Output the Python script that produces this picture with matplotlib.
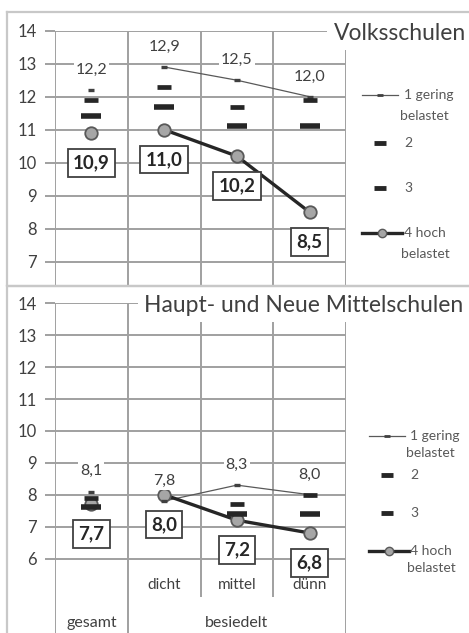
import numpy as np
import matplotlib.pyplot as plt
from matplotlib.lines import Line2D

plt.rcParams['font.family'] = ['Lato', 'DejaVu Sans']

# categories (x axis)
categories = ['gesamt', 'dicht', 'mittel', 'dünn']
group_labels = ['gesamt', 'besiedelt']
series_names = ['1 gering\nbelastet', '2', '3', '4 hoch\nbelastet']

# Volksschulen
vs_s1 = [12.2, 12.9, 12.5, 12.0]
vs_s2 = [11.9, 12.3, 11.7, 11.9]
vs_s3 = [11.4, 11.7, 11.1, 11.1]
vs_s4 = [10.9, 11.0, 10.2, 8.5]

# Haupt- und Neue Mittelschulen
ms_s1 = [8.1, 7.8, 8.3, 8.0]
ms_s2 = [7.9, np.nan, 7.7, 8.0]
ms_s3 = [7.6, np.nan, 7.4, 7.4]
ms_s4 = [7.7, 8.0, 7.2, 6.8]

GRID = '#a0a0a0'
DARK = '#404040'
W, H = 469, 633


def de(v):
    return f'{v:.1f}'.replace('.', ',')


fig = plt.figure(figsize=(W / 100, H / 100), dpi=100)


def px_axes(l, t, r, b):
    return fig.add_axes([l / W, 1 - b / H, (r - l) / W, (b - t) / H])


def draw_panel(ax, s1, s2, s3, s4, ylo, yticks, inner_bottom=None):
    x = np.arange(len(categories))
    ax.set_xlim(-0.5, 3.5)
    ax.set_ylim(ylo, 14)
    ax.set_yticks(yticks)
    ax.set_xticks([])
    for sp in ax.spines.values():
        sp.set_visible(False)
    ax.tick_params(axis='y', length=7, width=1.4, color=GRID, labelsize=12,
                   labelcolor=DARK, pad=6)
    for y in yticks:
        ax.axhline(y, color=GRID, lw=1.4, zorder=0)
    for xv in [-0.5, 0.5, 1.5, 2.5, 3.5]:
        if inner_bottom is not None and xv in (1.5, 2.5):
            ax.vlines(xv, inner_bottom, 14, color=GRID, lw=1.4, zorder=0)
        else:
            ax.axvline(xv, color=GRID, lw=1.4, zorder=0)

    # series 1: thin line over the besiedelt groups, small dash marker
    ax.plot(x[1:], s1[1:], color='#595959', lw=0.9, zorder=2)
    ax.plot(x, s1, ls='none', marker='_', ms=5, mew=2.4, color=DARK, zorder=5)
    # series 4: thick line with grey circles
    ax.plot(x[1:], s4[1:], color='#262626', lw=2.4, zorder=3)
    ax.plot(x, s4, ls='none', marker='o', ms=9, mfc='#a6a6a6', mec='#595959',
            mew=1.3, zorder=4)
    # series 2 and 3: dashes
    ax.plot(x, s2, ls='none', marker='_', ms=10, mew=3.4, color='#262626', zorder=5)
    ax.plot(x, s3, ls='none', marker='_', ms=14, mew=4, color='#262626', zorder=5)

    for xi, v in zip(x, s1):
        ax.annotate(de(v), (xi, v), xytext=(0, 14.5), textcoords='offset points',
                    ha='center', va='center', fontsize=11.5, color=DARK, zorder=6,
                    bbox=dict(boxstyle='square,pad=0.12', fc='white', ec='none'))
    for xi, v in zip(x, s4):
        ax.annotate(de(v), (xi, v), xytext=(0, -21.5), textcoords='offset points',
                    ha='center', va='center', fontsize=13.5, fontweight='bold',
                    color='#262626', zorder=6,
                    bbox=dict(boxstyle='square,pad=0.28', fc='white', ec=DARK, lw=1.3))


ax1 = px_axes(55, 30.7, 346, 286)
draw_panel(ax1, vs_s1, vs_s2, vs_s3, vs_s4, 14 - 255.3 / 33, range(7, 15))

ax2 = px_axes(55, 303.3, 346, 633)
draw_panel(ax2, ms_s1, ms_s2, ms_s3, ms_s4, 14 - 329.7 / 31.9, range(6, 15),
           inner_bottom=14 - (597 - 303.3) / 31.9)
y_cat = 14 - (585 - 303.3) / 31.9
y_grp = 14 - (623 - 303.3) / 31.9
for i, c in enumerate(categories[1:], start=1):
    ax2.text(i, y_cat, c, ha='center', va='center', fontsize=11, color=DARK)
ax2.text(0, y_grp, group_labels[0], ha='center', va='center', fontsize=11.5, color=DARK)
ax2.text(2, y_grp, group_labels[1], ha='center', va='center', fontsize=11.5, color=DARK)

# overlay in pixel coordinates: titles, legends, frames
ov = fig.add_axes([0, 0, 1, 1], zorder=10)
ov.set_xlim(0, W)
ov.set_ylim(H, 0)
ov.axis('off')
ov.patch.set_alpha(0)

ov.text(400, 33, 'Volksschulen', ha='center', va='center', fontsize=16.5,
        color=DARK, bbox=dict(boxstyle='square,pad=0.3', fc='white', ec='none'))
ov.text(304, 305, 'Haupt- und Neue Mittelschulen', ha='center', va='center',
        fontsize=16.5, color=DARK,
        bbox=dict(boxstyle='square,pad=0.3', fc='white', ec='none'))


def draw_legend(x0, x1, xt, ys, gap):
    xm = (x0 + x1) / 2
    lab1, lab4 = series_names[0].split('\n'), series_names[3].split('\n')
    ov.add_line(Line2D([x0, x1], [ys[0]] * 2, color='#595959', lw=0.9))
    ov.add_line(Line2D([xm], [ys[0]], marker='_', ms=4, mew=2, color=DARK))
    ov.text(xt, ys[0], lab1[0], va='center', fontsize=10, color='#595959')
    ov.text(xt - 4, ys[0] + gap, lab1[1], va='center', fontsize=10, color='#595959')
    for y, name in [(ys[1], series_names[1]), (ys[2], series_names[2])]:
        ov.add_line(Line2D([xm], [y], marker='_', ms=8, mew=3.5, color='#262626'))
        ov.text(xt, y, name, va='center', fontsize=10, color='#595959')
    ov.add_line(Line2D([x0, x1 + 4], [ys[3]] * 2, color='#262626', lw=2.4))
    ov.add_line(Line2D([xm + 2], [ys[3]], marker='o', ms=6, mfc='#a6a6a6',
                       mec='#595959', mew=1))
    ov.text(xt, ys[3], lab4[0], va='center', fontsize=10, color='#595959')
    ov.text(xt - 3, ys[3] + gap, lab4[1], va='center', fontsize=10, color='#595959')


draw_legend(362, 398, 404, [95, 143, 188, 233], 21)
draw_legend(369, 405, 410, [436, 475, 513, 551], 17)

# panel frames
for (l, t, r, b) in [(7, 12, 475, 286), (7, 286, 475, 640)]:
    ov.add_line(Line2D([l, r, r, l, l], [t, t, b, b, t], color='#c8c8c8', lw=1.6,
                       zorder=20))

fig.savefig('out.png', dpi=100)
